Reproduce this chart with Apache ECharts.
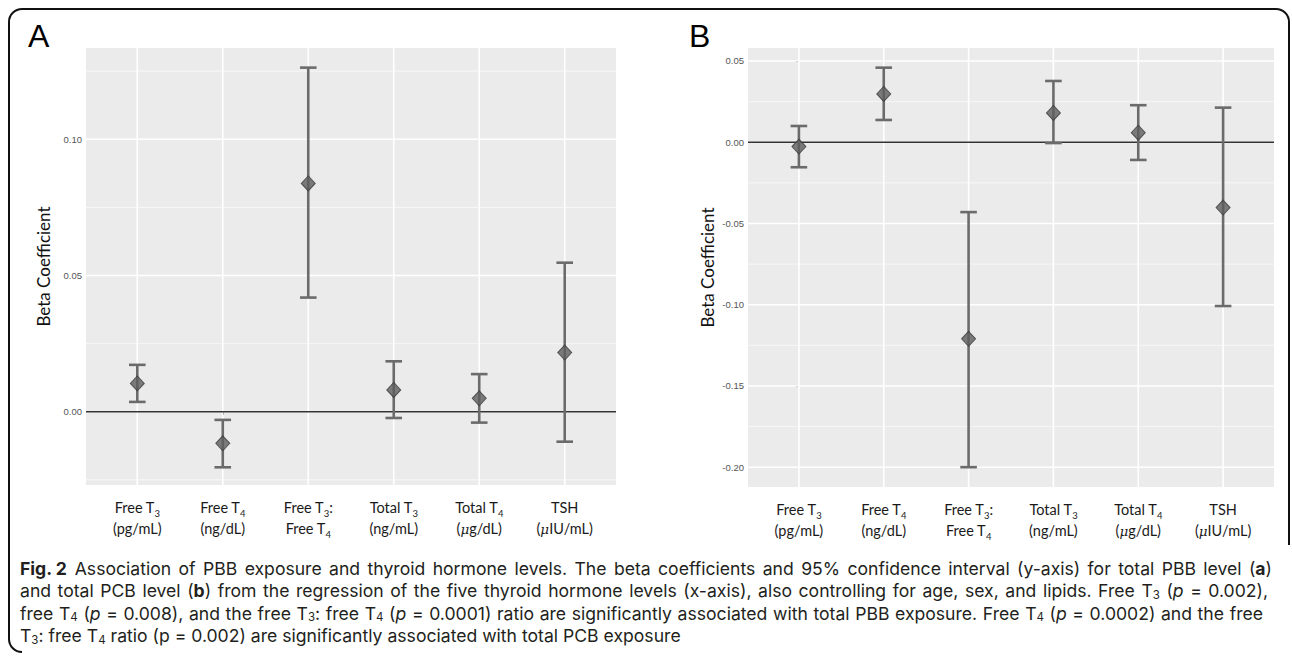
<!DOCTYPE html>
<html>
<head>
<meta charset="utf-8">
<script src="https://cdn.jsdelivr.net/npm/echarts@6/dist/echarts.min.js"></script>
<style>
html,body{margin:0;padding:0;background:#fff;}
#chart{width:1292px;height:660px;}
</style>
</head>
<body>
<div id="chart"></div>
<script>
// ---- data ----
var categoryLabels = [
  '{a|Free T}{s|3}\n{a|(pg/mL)}',
  '{a|Free T}{s|4}\n{a|(ng/dL)}',
  '{a|Free T}{s|3}{a|:}\n{a|Free T}{s|4}',
  '{a|Total T}{s|3}\n{a|(ng/mL)}',
  '{a|Total T}{s|4}\n{a|(}{i|μ}{a|g/dL)}',
  '{a|TSH}\n{a|(}{i|μ}{a|IU/mL)}'
];
var categoryIndex = [0, 1, 2, 3, 4, 5];

var pbbEstimate = [0.0104, -0.0116, 0.0838, 0.0080, 0.0049, 0.0217];
var pbbLower    = [0.0036, -0.0204, 0.0419, -0.0023, -0.0040, -0.0110];
var pbbUpper    = [0.0172, -0.0030, 0.1263, 0.0185, 0.0138, 0.0547];

var pcbEstimate = [-0.0027, 0.0297, -0.1210, 0.0180, 0.0059, -0.0402];
var pcbLower    = [-0.0154, 0.0137, -0.2000, -0.0005, -0.0109, -0.1008];
var pcbUpper    = [0.0100, 0.0459, -0.0430, 0.0377, 0.0228, 0.0213];

var yTicksA = [0.00, 0.05, 0.10];
var yMinorA = [-0.025, 0.025, 0.075, 0.125];
var yTicksB = [-0.20, -0.15, -0.10, -0.05, 0.00, 0.05];
var yMinorB = [-0.175, -0.125, -0.075, -0.025, 0.025];

var yRangeA = [-0.0269, 0.1335];
var yRangeB = [-0.2122, 0.0580];

var captionLines = [
  '{b|Fig. 2} Association of PBB exposure and thyroid hormone levels. The beta coefficients and 95% confidence interval (y-axis) for total PBB level ({b|a})',
  'and total PCB level ({b|b}) from the regression of the five thyroid hormone levels (x-axis), also controlling for age, sex, and lipids. Free T{s|3} ({i|p} = 0.002),',
  'free T{s|4} ({i|p} = 0.008), and the free T{s|3}: free T{s|4} ({i|p} = 0.0001) ratio are significantly associated with total PBB exposure. Free T{s|4} ({i|p} = 0.0002) and the free',
  'T{s|3}: free T{s|4} ratio (p = 0.002) are significantly associated with total PCB exposure'
];

// ---- styles ----
var LABEL_FONT = 'Lato, "Open Sans", sans-serif';
var rich = {
  a: {fontFamily: LABEL_FONT, fontSize: 14.5, color: '#1a1a1a', lineHeight: 21},
  s: {fontFamily: LABEL_FONT, fontSize: 9.5, color: '#1a1a1a', lineHeight: 12, verticalAlign: 'bottom'},
  i: {fontFamily: '"DejaVu Serif", serif', fontStyle: 'italic', fontSize: 13.5, color: '#1a1a1a', lineHeight: 21}
};

function xAxisCfg(gridIndex) {
  return {
    type: 'value', gridIndex: gridIndex, min: -0.6, max: 5.6,
    axisLine: {show: false},
    splitLine: {show: false},
    axisTick: {show: true, customValues: categoryIndex, length: 3, lineStyle: {color: '#444', width: 1}},
    axisLabel: {
      customValues: categoryIndex, margin: 12, rich: rich,
      formatter: function (v) { return categoryLabels[Math.round(v)]; }
    }
  };
}
function yAxisCfg(gridIndex, range, ticks, gap) {
  return {
    type: 'value', gridIndex: gridIndex, min: range[0], max: range[1],
    name: 'Beta Coefficient', nameLocation: 'middle', nameGap: gap, nameRotate: 90,
    nameTextStyle: {fontFamily: LABEL_FONT, fontSize: 17, color: '#111'},
    axisLine: {show: false},
    splitLine: {show: false},
    axisTick: {show: true, customValues: ticks, length: 3, lineStyle: {color: '#444', width: 1}},
    axisLabel: {
      customValues: ticks, margin: 4, fontFamily: '"Liberation Sans", Arial, sans-serif', fontSize: 9.5, color: '#555',
      formatter: function (v) { return v.toFixed(2); }
    }
  };
}

function hGridSeries(idx, values, width, color, z) {
  return {
    type: 'custom', xAxisIndex: idx, yAxisIndex: idx, silent: true, z: z,
    data: values.map(function (v) { return [0, v]; }),
    renderItem: function (params, api) {
      var cs = params.coordSys;
      var y = api.coord([0, api.value(1)])[1];
      return {type: 'line', shape: {x1: cs.x, y1: y, x2: cs.x + cs.width, y2: y},
              style: {stroke: color, lineWidth: width}};
    }
  };
}
function vGridSeries(idx) {
  return {
    type: 'custom', xAxisIndex: idx, yAxisIndex: idx, silent: true, z: 1,
    data: categoryIndex.map(function (c) { return [c, 0]; }),
    renderItem: function (params, api) {
      var cs = params.coordSys;
      var x = api.coord([api.value(0), 0])[0];
      return {type: 'line', shape: {x1: x, y1: cs.y, x2: x, y2: cs.y + cs.height},
              style: {stroke: '#ffffff', lineWidth: 1.6}};
    }
  };
}
function errorSeries(idx, lower, upper) {
  return {
    type: 'custom', xAxisIndex: idx, yAxisIndex: idx, silent: true, z: 4,
    data: categoryIndex.map(function (c, k) { return [c, lower[k], upper[k]]; }),
    renderItem: function (params, api) {
      var lo = api.coord([api.value(0), api.value(1)]);
      var hi = api.coord([api.value(0), api.value(2)]);
      var hw = 8.3;
      var st = {stroke: '#6b6b6b', lineWidth: 2.6};
      return {type: 'group', children: [
        {type: 'line', shape: {x1: lo[0], y1: lo[1], x2: hi[0], y2: hi[1]}, style: st},
        {type: 'line', shape: {x1: lo[0] - hw, y1: lo[1], x2: lo[0] + hw, y2: lo[1]}, style: st},
        {type: 'line', shape: {x1: hi[0] - hw, y1: hi[1], x2: hi[0] + hw, y2: hi[1]}, style: st}
      ]};
    }
  };
}
function pointSeries(idx, est) {
  return {
    type: 'scatter', xAxisIndex: idx, yAxisIndex: idx, silent: true, z: 5,
    symbol: 'diamond', symbolSize: [14, 15],
    itemStyle: {color: '#5e5e5e', borderColor: '#3c3c3c', borderWidth: 1},
    data: categoryIndex.map(function (c, k) { return [c, est[k]]; })
  };
}

// ---- caption (justified like the source page) ----
var CAP_FONT = 'Inter, "Open Sans", sans-serif';
var CAP_SIZE = 17.6;
var CAP_LH = 20;
var capRich = {
  n: {fontFamily: CAP_FONT, fontSize: CAP_SIZE, color: '#231f20', lineHeight: CAP_LH},
  b: {fontFamily: CAP_FONT, fontWeight: 'bold', fontSize: CAP_SIZE, color: '#231f20', lineHeight: CAP_LH},
  i: {fontFamily: CAP_FONT, fontStyle: 'italic', fontSize: CAP_SIZE, color: '#231f20', lineHeight: CAP_LH},
  s: {fontFamily: CAP_FONT, fontSize: 11.5, color: '#231f20', lineHeight: 13, verticalAlign: 'bottom'}
};
var mctx = document.createElement('canvas').getContext('2d');
function measure(txt, st) {
  mctx.font = (st.fontStyle || 'normal') + ' ' + (st.fontWeight || 'normal') + ' ' + st.fontSize + 'px ' + st.fontFamily;
  return mctx.measureText(txt).width;
}
function buildLine(line, target) {
  var re = /\{(\w+)\|([^}]*)\}|([^{]+)/g, m, out = [], w = 0, nsp = 0;
  while ((m = re.exec(line))) {
    if (m[1]) { out.push('{' + m[1] + '|' + m[2] + '}'); w += measure(m[2], capRich[m[1]]); }
    else {
      m[3].split(' ').forEach(function (word, k) {
        if (k > 0) { out.push('{sp|\u00a0}'); nsp++; }
        if (word) { out.push('{n|' + word + '}'); w += measure(word, capRich.n); }
      });
    }
  }
  var natural = measure(' ', capRich.n);
  var spw = target && nsp ? Math.max(2.5, (target - w) / nsp) : natural;
  var r = {};
  for (var k in capRich) r[k] = capRich[k];
  r.sp = {fontFamily: CAP_FONT, fontSize: CAP_SIZE, width: spw, lineHeight: CAP_LH};
  return {text: out.join(''), rich: r};
}
var captionY = [568, 590.5, 613, 635.5];
var captionTarget = [1252, 1248, 1243, 0];

var BORDER = {fill: 'none', stroke: '#111', lineWidth: 2};
var graphics = [
  {type: 'line', silent: true, shape: {x1: 9, y1: 22, x2: 9, y2: 639}, style: BORDER},
  {type: 'line', silent: true, shape: {x1: 22, y1: 9, x2: 1276, y2: 9}, style: BORDER},
  {type: 'line', silent: true, shape: {x1: 1289, y1: 22, x2: 1289, y2: 545}, style: BORDER},
  {type: 'arc', silent: true, shape: {cx: 22, cy: 22, r: 13, startAngle: Math.PI, endAngle: Math.PI * 1.5}, style: BORDER},
  {type: 'arc', silent: true, shape: {cx: 1276, cy: 22, r: 13, startAngle: Math.PI * 1.5, endAngle: Math.PI * 2}, style: BORDER},
  {type: 'arc', silent: true, shape: {cx: 22, cy: 639, r: 13, startAngle: Math.PI * 0.5, endAngle: Math.PI}, style: BORDER},
  {type: 'text', left: 28, top: 20, silent: true,
   style: {text: 'A', fontFamily: '"Liberation Sans", Arial, sans-serif', fontSize: 32, fill: '#000'}},
  {type: 'text', left: 689, top: 20, silent: true,
   style: {text: 'B', fontFamily: '"Liberation Sans", Arial, sans-serif', fontSize: 32, fill: '#000'}}
];
captionLines.forEach(function (t, k) {
  var L = buildLine(t, captionTarget[k]);
  graphics.push({type: 'text', silent: true, x: 20, y: captionY[k],
    style: {text: L.text, rich: L.rich, fontFamily: CAP_FONT, fontSize: CAP_SIZE, lineHeight: CAP_LH, fill: '#231f20', verticalAlign: 'middle', align: 'left'}});
});

var chart = echarts.init(document.getElementById('chart'), null, {renderer: 'svg'});
chart.setOption({
  backgroundColor: '#ffffff',
  animation: false,
  grid: [
    {left: 86, top: 48, width: 530, height: 437, show: true, backgroundColor: '#ebebeb', borderWidth: 0, containLabel: false},
    {left: 748, top: 48, width: 526, height: 439, show: true, backgroundColor: '#ebebeb', borderWidth: 0, containLabel: false}
  ],
  xAxis: [xAxisCfg(0), xAxisCfg(1)],
  yAxis: [yAxisCfg(0, yRangeA, yTicksA, 34), yAxisCfg(1, yRangeB, yTicksB, 32)],
  graphic: graphics,
  series: [
    hGridSeries(0, yMinorA, 1.0, '#f7f7f7', 1),
    hGridSeries(0, yTicksA, 1.6, '#ffffff', 1),
    vGridSeries(0),
    hGridSeries(0, [0], 1.4, '#333333', 3),
    errorSeries(0, pbbLower, pbbUpper),
    pointSeries(0, pbbEstimate),
    hGridSeries(1, yMinorB, 1.0, '#f7f7f7', 1),
    hGridSeries(1, yTicksB, 1.6, '#ffffff', 1),
    vGridSeries(1),
    hGridSeries(1, [0], 1.4, '#333333', 3),
    errorSeries(1, pcbLower, pcbUpper),
    pointSeries(1, pcbEstimate)
  ]
});
</script>
</body>
</html>
